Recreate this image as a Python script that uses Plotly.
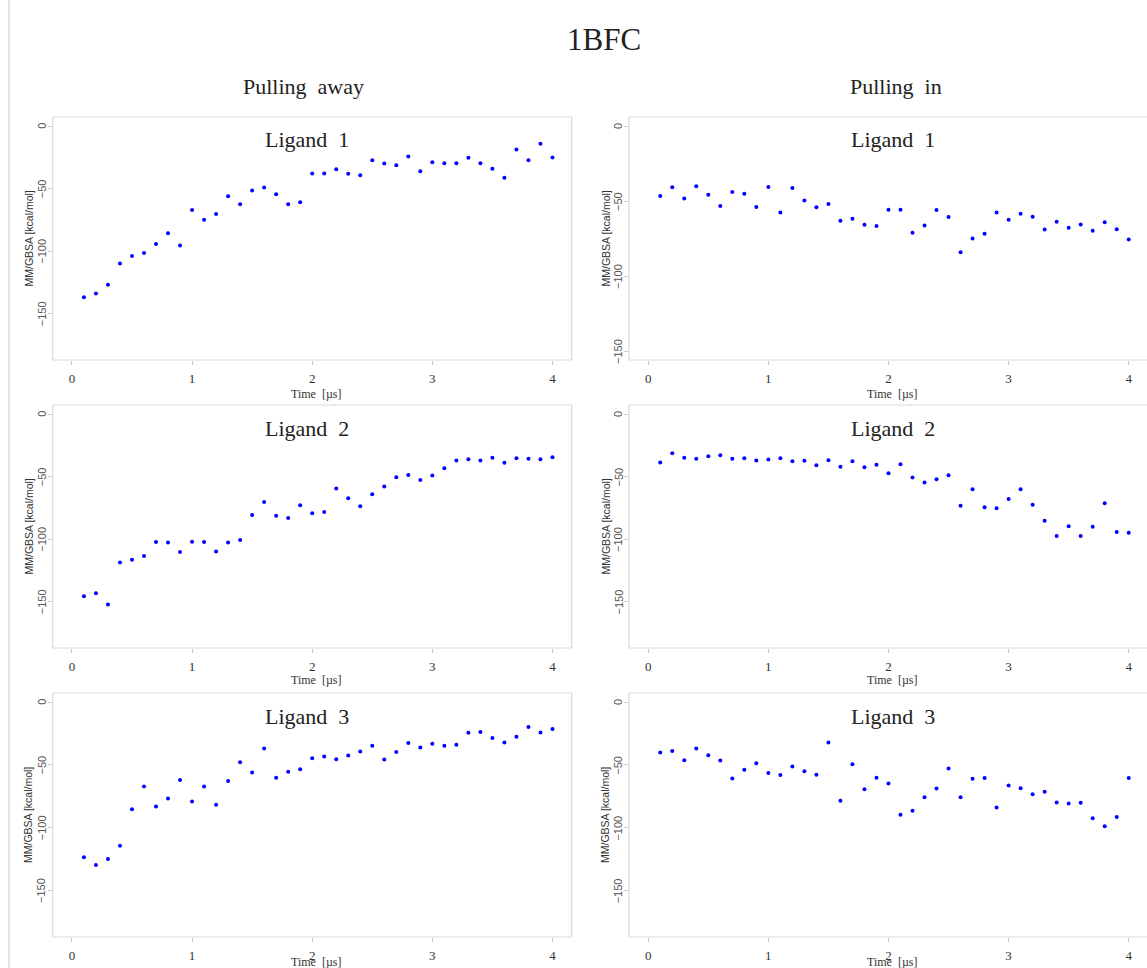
import plotly.graph_objects as go

time_us = [round(0.1 * i, 1) for i in range(1, 41)]

away_lig1 = [-137, -134, -127, -110, -104, -101.6, -94.4, -85.8, -95.5, -67.1,
             -74.9, -70.3, -56.1, -62.6, -51.6, -49.2, -54.5, -62.6, -61, -38,
             -38, -34.5, -38.2, -39.3, -27.3, -30, -31.3, -24.3, -36.1, -28.9,
             -29.7, -29.7, -25.4, -29.7, -34.2, -41.4, -18.7, -27.3, -14.2, -25.1]
in_lig1 = [-46.7, -40.8, -48.4, -40.2, -45.8, -53.3, -44, -45.1, -54, -40.6,
           -57.6, -41.3, -49.6, -54.2, -52, -63.2, -61.8, -65.8, -66.7, -55.8,
           -55.8, -71.2, -66.3, -56, -60.7, -84.2, -75, -71.9, -57.6, -62.5,
           -58.5, -60.5, -69, -63.8, -67.9, -65.6, -69.9, -64.1, -68.8, -75.7]
away_lig2 = [-145.7, -143.3, -152.4, -118.7, -116.6, -113.6, -102.4, -102.7, -110.4, -102.1,
             -102.4, -109.9, -102.7, -100.8, -80.7, -70.3, -81.3, -83.2, -73, -79.4,
             -78.3, -59.6, -67.4, -73.8, -64.2, -58, -50.5, -48.7, -52.7, -49.2,
             -43.3, -37.2, -36.1, -37.2, -35, -39, -35.3, -35.8, -36.1, -34.5]
in_lig2 = [-38.8, -31.3, -35, -35.8, -33.7, -32.9, -35.8, -35.3, -37.2, -36.4,
           -35.3, -37.7, -37.4, -40.9, -36.9, -42.2, -37.7, -42.5, -40.6, -47.3,
           -40.1, -50.8, -54.8, -52.1, -48.9, -73.3, -60.2, -74.6, -75.4, -67.9,
           -60.2, -72.5, -85.3, -97.6, -89.8, -97.6, -90.1, -71.4, -94.4, -94.9]
away_lig3 = [-123.7, -129.8, -125, -114.4, -85.4, -67.3, -83.2, -76.9, -62.2, -79.3,
             -67.3, -81.9, -63, -47.9, -56.1, -37, -60.4, -55.6, -53.5, -44.7,
             -43.4, -45.5, -42.6, -39.4, -34.8, -45.7, -39.9, -32.7, -36.2, -33.2,
             -34.8, -34, -24.5, -23.9, -28.7, -32.2, -27.7, -19.9, -24.2, -21.5]
in_lig3 = [-40.2, -39.1, -46.3, -37, -42.3, -46.5, -60.9, -54, -48.7, -56.6,
           -58.2, -51.3, -55.1, -58, -32.2, -78.7, -49.5, -69.4, -60.4, -64.9,
           -89.9, -86.7, -75.8, -68.9, -52.9, -75.8, -61.2, -60.6, -84, -66.5,
           -68.6, -73.4, -71.5, -80.1, -80.9, -80.3, -92.6, -98.9, -91.5, -60.6]

panel_titles = ["Ligand  1", "Ligand  2", "Ligand  3"]
column_titles = ["Pulling  away", "Pulling  in"]
main_title = "1BFC"
x_ticks = [0, 1, 2, 3, 4]
y_ticks = [0, -50, -100, -150]
x_title = "Time  [\u00b5s]"
y_title = "MM/GBSA [kcal/mol]"

series = [[away_lig1, in_lig1], [away_lig2, in_lig2], [away_lig3, in_lig3]]
ylims = [[(-180, 0), (-150, 0)], [(-180, 0), (-180, 0)], [(-180, 0), (-180, 0)]]

W, H = 1147, 968
col_px = [(52.7, 571.7), (629.0, 1147.0)]
col_range = [(-0.16, 4.16), (-0.16, 4.152)]
row_px = [(117, 360), (405, 648), (693, 937)]
title_x = [307, 893]
time_x = [316, 892]
time_y = [394, 680, 962]
ytitle_x = [28, 605]

serif = "Liberation Serif"
sans = "Liberation Sans"

fig = go.Figure()
layout = dict(
    width=W, height=H, margin=dict(l=0, r=0, t=0, b=0),
    paper_bgcolor="white", plot_bgcolor="white", showlegend=False,
)
annotations = []
shapes = []

idx = 0
for r in range(3):
    for c in range(2):
        idx += 1
        xa = "x" if idx == 1 else f"x{idx}"
        ya = "y" if idx == 1 else f"y{idx}"
        fig.add_trace(go.Scatter(
            x=time_us, y=series[r][c], mode="markers", xaxis=xa, yaxis=ya,
            marker=dict(color="#0000ff", size=4, line=dict(width=0)),
            hoverinfo="skip"))
        x0, x1 = col_px[c]
        y0, y1 = row_px[r]
        lo, hi = ylims[r][c]
        ext = (hi - lo) * 0.04
        xkey = "xaxis" if idx == 1 else f"xaxis{idx}"
        ykey = "yaxis" if idx == 1 else f"yaxis{idx}"
        layout[xkey] = dict(
            domain=[x0 / W, min(x1 / W, 1.0)], range=list(col_range[c]),
            anchor=ya, showgrid=False, zeroline=False, showline=False,
            tickmode="array", tickvals=x_ticks, ticktext=[str(t) for t in x_ticks],
            ticks="outside", ticklen=4, tickcolor="#c8c8c8", tickwidth=1,
            tickfont=dict(family=serif, size=13, color="#333333"),
            ticklabelstandoff=2,
        )
        layout[ykey] = dict(
            domain=[1 - y1 / H, 1 - y0 / H], range=[lo - ext, hi + ext],
            anchor=xa, showgrid=False, zeroline=False, showline=False,
            tickmode="array", tickvals=y_ticks, showticklabels=False,
            ticks="outside", ticklen=4, tickcolor="#c8c8c8", tickwidth=1,
        )
        # rotated y tick labels (parallel to axis, as in the original)
        for t in y_ticks:
            annotations.append(dict(
                text=("\u2212" + str(-t)) if t < 0 else str(t),
                x=(x0 - 11) / W, xref="paper", y=t, yref=ya,
                showarrow=False, xanchor="center", yanchor="middle", textangle=-90,
                font=dict(family=sans, size=11, color="#555555")))
        shapes.append(dict(
            type="rect", xref=f"{xa} domain", yref=f"{ya} domain",
            x0=0, x1=(1.003 if c == 1 else 1), y0=0, y1=1,
            line=dict(color="#d9d9d9", width=1.2), fillcolor="rgba(0,0,0,0)", layer="below"))
        annotations.append(dict(
            text=panel_titles[r], x=title_x[c] / W, y=1 - (y0 + 23) / H,
            xref="paper", yref="paper", showarrow=False, xanchor="center", yanchor="middle",
            font=dict(family=serif, size=22, color="#222222")))
        annotations.append(dict(
            text=x_title, x=time_x[c] / W, y=1 - time_y[r] / H,
            xref="paper", yref="paper", showarrow=False, xanchor="center", yanchor="middle",
            font=dict(family=serif, size=12, color="#333333")))
        annotations.append(dict(
            text=y_title, x=ytitle_x[c] / W, y=1 - (y0 + y1) / 2 / H,
            xref="paper", yref="paper", showarrow=False, xanchor="center", yanchor="middle",
            textangle=-90, font=dict(family=sans, size=10.5, color="#333333")))

annotations.append(dict(
    text=main_title, x=604 / W, y=1 - 40 / H, xref="paper", yref="paper",
    showarrow=False, xanchor="center", yanchor="middle",
    font=dict(family=serif, size=31, color="#222222")))
for c, cx in enumerate([303, 896]):
    annotations.append(dict(
        text=column_titles[c], x=cx / W, y=1 - 87 / H, xref="paper", yref="paper",
        showarrow=False, xanchor="center", yanchor="middle",
        font=dict(family=serif, size=22, color="#222222")))

shapes.append(dict(type="line", xref="paper", yref="paper", x0=9 / W, x1=9 / W,
                   y0=0, y1=1, line=dict(color="#e2e2e2", width=2)))

layout["annotations"] = annotations
layout["shapes"] = shapes
fig.update_layout(**layout)
fig.write_html("out.html")
